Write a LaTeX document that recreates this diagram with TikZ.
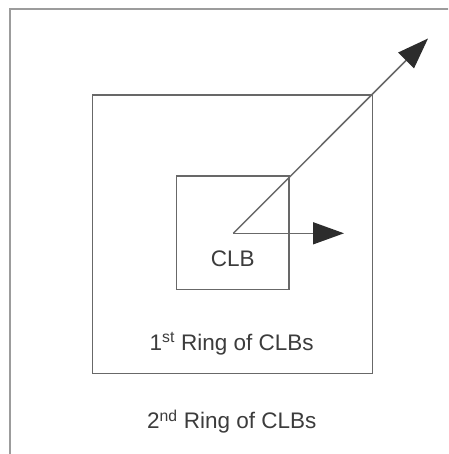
\documentclass[tikz,border=0pt]{standalone}
\usepackage{fontspec}
\setmainfont{Liberation Sans}
\usetikzlibrary{arrows.meta}
\definecolor{linegray}{HTML}{686868}
\definecolor{framegray}{HTML}{9C9C9C}
\definecolor{textgray}{HTML}{3C3C3C}
\definecolor{headgray}{HTML}{2C2C2C}
\begin{document}
\begin{tikzpicture}[x=1pt,y=-1pt,
  box/.style={draw=linegray,line width=1.5pt},
  lbl/.style={text=textgray,font=\fontsize{22.5}{24}\selectfont,inner sep=0pt},
  arr/.style={draw=linegray,line width=1.5pt,-{Triangle[length=31pt,width=22pt,fill=headgray,color=headgray]}}]
\useasboundingbox (0,0) rectangle (448,454);
\clip (0,0) rectangle (448,454);
\fill[white] (0,0) rectangle (448,454);
\draw[framegray,line width=1.4pt] (10,9) rectangle (470,480);
\draw[box] (92.7,95) rectangle (372.7,373.3);
\draw[box] (176.3,176) rectangle (289,289.3);
\coordinate (o) at (233.3,233.3);
\coordinate (d) at (428,38.5);
\coordinate (h) at (344,233.3);
\draw[arr] (o) -- (d);
\draw[arr] (o) -- (h);
\node[lbl] (clb) at (232.7,259) {CLB};
\node[lbl] (r1) at (231.7,344) {1\textsuperscript{st} Ring of CLBs};
\node[lbl] (r2) at (231.7,421.5) {2\textsuperscript{nd} Ring of CLBs};
\end{tikzpicture}
\end{document}
